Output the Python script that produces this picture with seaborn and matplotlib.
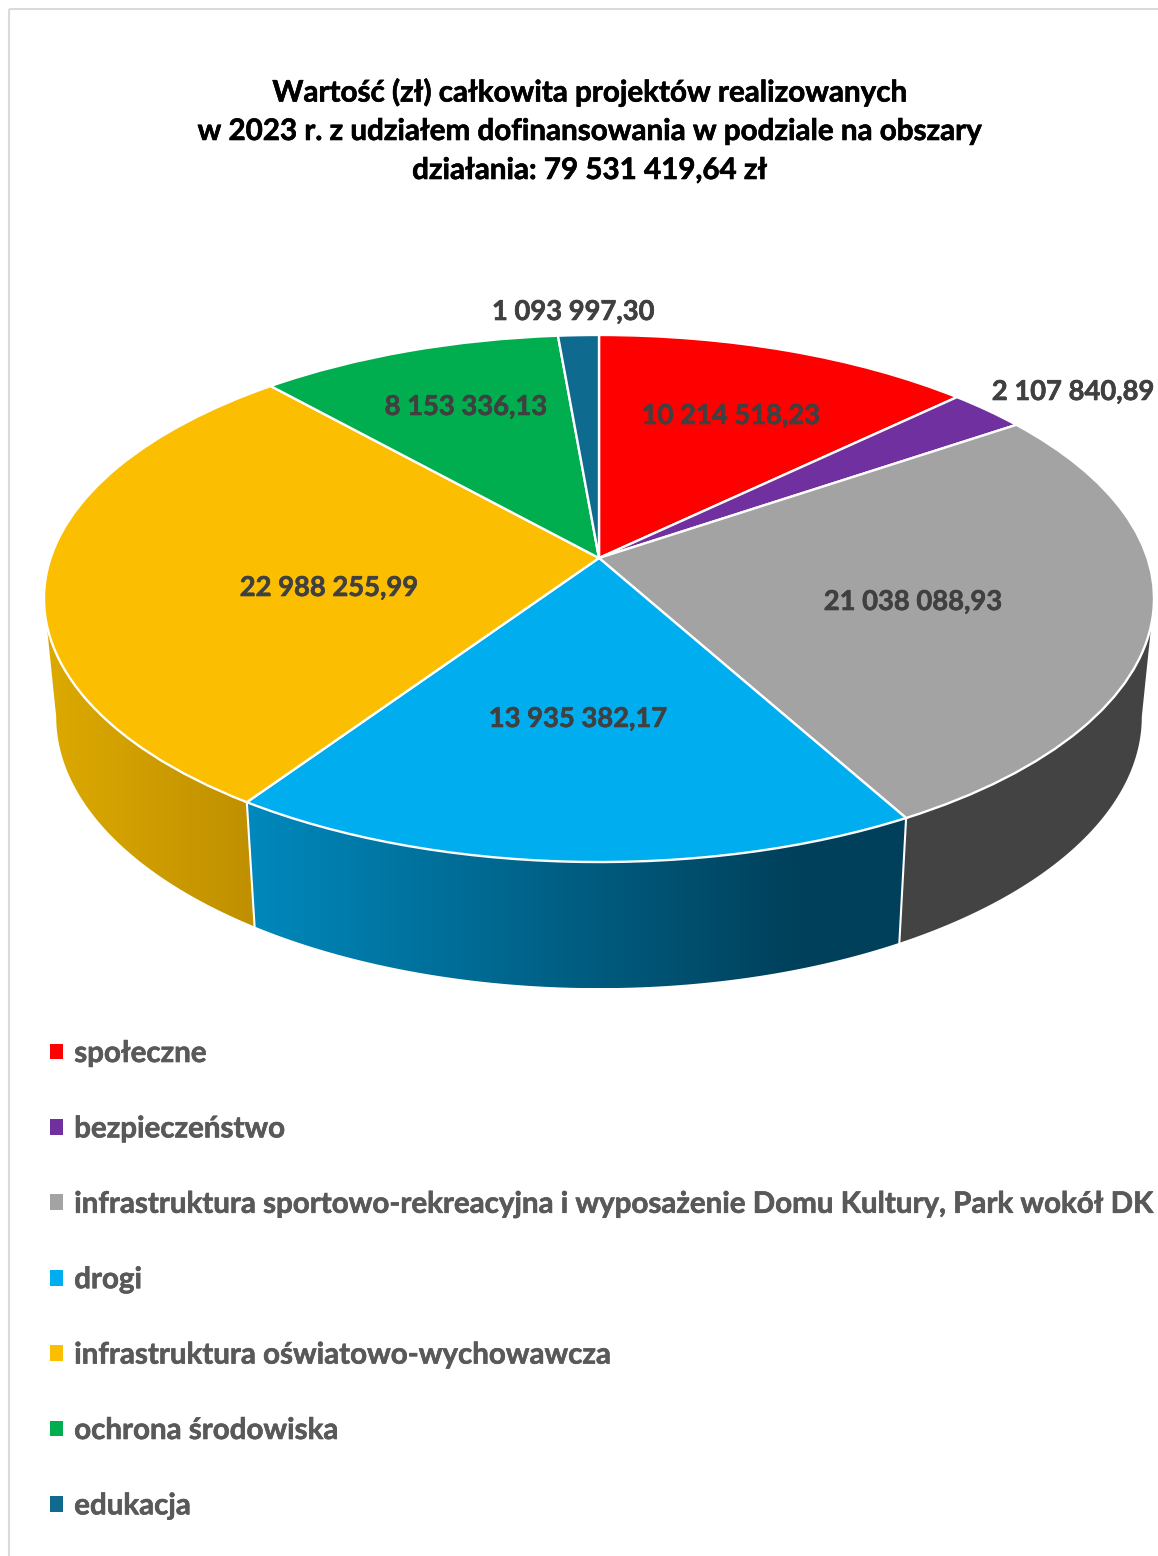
import numpy as np
import matplotlib
matplotlib.use("Agg")
import matplotlib.pyplot as plt
import matplotlib.transforms as mtransforms
import matplotlib.patheffects as pe
from matplotlib.colors import to_rgb
from matplotlib.patches import Patch, Polygon
from matplotlib.path import Path
import seaborn as sns

# ---- data ----
categories = ["społeczne", "bezpieczeństwo",
              "infrastruktura sportowo-rekreacyjna i wyposażenie Domu Kultury, Park wokół DK",
              "drogi", "infrastruktura oświatowo-wychowawcza", "ochrona środowiska", "edukacja"]
values = [10214518.23, 2107840.89, 21038088.93, 13935382.17, 22988255.99, 8153336.13, 1093997.30]
value_labels = ["10 214 518,23", "2 107 840,89", "21 038 088,93", "13 935 382,17",
                "22 988 255,99", "8 153 336,13", "1 093 997,30"]
label_x = [731, 1073, 913, 578, 329, 466, 573]
label_y = [416, 392, 602, 719, 588, 407, 312]
colors = ["#FF0000", "#7030A0", "#A3A3A3", "#00AEEF", "#FBBE00", "#00AE4F", "#0F6A8F"]
title_lines = ["Wartość (zł) całkowita projektów realizowanych",
               "w 2023 r. z udziałem dofinansowania w podziale na obszary",
               "działania: 79 531 419,64 zł"]
# side wall shading: wedge index -> (x start, x end, colour start, colour end)
side_shades = {2: (900, 1150, "#434343", "#434343"),
               3: (250, 800, "#0088BC", "#00405A"),
               4: (60, 250, "#DBA800", "#C09000")}

# ---- style ----
sns.set_theme(style="white")
plt.rcParams["font.family"] = ["Lato", "DejaVu Sans"]
palette = sns.color_palette(colors)

# projection of the disc: perspective view
CX, CY, A, B, K = 599.0, 558.0, 548.4, 257.3, 0.1537
S_X, S_Y, DROP = 0.978, 1.03, 117.0


def project(x, y):
    w = 1 + K * y
    return CX + A * x / w, CY - B * y / w


def project_low(x, y):
    sx, sy = project(x, y)
    return CX + S_X * (sx - CX), CY + S_Y * (sy - CY) + DROP


class DiscProjection(mtransforms.Transform):
    input_dims = 2
    output_dims = 2
    is_separable = False
    has_inverse = False

    def transform_non_affine(self, values):
        v = np.asarray(values, dtype=float)
        sx, sy = project(v[:, 0], v[:, 1])
        return np.column_stack([sx, sy])

    def transform_path_non_affine(self, path):
        return Path(self.transform(path.vertices), path.codes)


fig = plt.figure(figsize=(11.58, 15.56), dpi=100, facecolor="white")
ax = fig.add_axes([0, 0, 1, 1])

wedges, _ = ax.pie(values, colors=palette, startangle=90, counterclock=False,
                   wedgeprops=dict(edgecolor="white", linewidth=1.7, zorder=5))
proj = DiscProjection() + ax.transData
for w in wedges:
    w.set_transform(proj)

# visible part of the side wall, angles in degrees
sil = np.degrees(np.arcsin(K))
vis_lo, vis_hi = -180 + sil, -sil

for idx, (x0, x1, c0, c1) in side_shades.items():
    t1, t2 = wedges[idx].theta1, wedges[idx].theta2
    a, b = max(t1, vis_lo), min(t2, vis_hi)
    th = np.radians(np.linspace(a, b, 200))
    ux, uy = np.cos(th), np.sin(th)
    tx, ty = project(ux, uy)
    lx, ly = project_low(ux, uy)
    xy = np.column_stack([np.r_[tx, lx[::-1]], np.r_[ty, ly[::-1]]])
    xmin, xmax = xy[:, 0].min(), xy[:, 0].max()
    ymin, ymax = xy[:, 1].min(), xy[:, 1].max()
    cols = np.linspace(xmin, xmax, 256)
    frac = np.clip((cols - x0) / (x1 - x0), 0, 1)[:, None]
    rgb = np.array(to_rgb(c0)) + (np.array(to_rgb(c1)) - np.array(to_rgb(c0))) * frac
    im = ax.imshow(rgb[None, :, :], extent=(xmin, xmax, ymax, ymin), aspect="auto",
                   interpolation="bilinear", zorder=2)
    clip = Polygon(xy, closed=True, transform=ax.transData, facecolor="none", edgecolor="none")
    ax.add_patch(clip)
    im.set_clip_path(clip)

for idx in (3, 4):
    t = np.radians(wedges[idx].theta2)
    p0 = project(np.cos(t), np.sin(t))
    p1 = project_low(np.cos(t), np.sin(t))
    ax.plot([p0[0], p1[0]], [p0[1], p1[1]], color="white", lw=1.5, zorder=3)

ax.set_aspect("auto")
ax.set_xlim(0, 1158)
ax.set_ylim(1556, 0)
ax.axis("off")

# frame lines
ax.plot([8.5, 8.5], [8.5, 1556], color="#DADADA", lw=1.5, zorder=1, solid_capstyle="butt")
ax.plot([8.5, 1158], [8.5, 8.5], color="#DADADA", lw=1.5, zorder=1, solid_capstyle="butt")


def bolder(color, width=0.45):
    return [pe.withStroke(linewidth=width, foreground=color)]


# title
for txt, yy in zip(title_lines, [92, 131, 170]):
    ax.text(590, yy, txt, ha="center", va="center", fontsize=21.3, fontweight="bold", color="black",
            zorder=6, path_effects=bolder("black"))

# value labels
for txt, xx, yy in zip(value_labels, label_x, label_y):
    ax.text(xx, yy, txt, ha="center", va="center", fontsize=19.7, fontweight="bold", color="#404040",
            zorder=6, path_effects=bolder("#404040"))

# legend
handles = [Patch(facecolor=c, edgecolor="none") for c in palette]
leg = ax.legend(handles, categories, loc="upper left", bbox_to_anchor=(50, 1039),
                bbox_transform=ax.transData, frameon=False, borderpad=0, borderaxespad=0,
                handlelength=0.44, handleheight=0.44, handletextpad=0.38, labelspacing=1.606,
                labelcolor="#595959", prop=dict(weight="bold", size=21.25, family="Lato"))
for t in leg.get_texts():
    t.set_path_effects(bolder("#595959"))

fig.savefig("out.png", dpi=100, facecolor="white")
